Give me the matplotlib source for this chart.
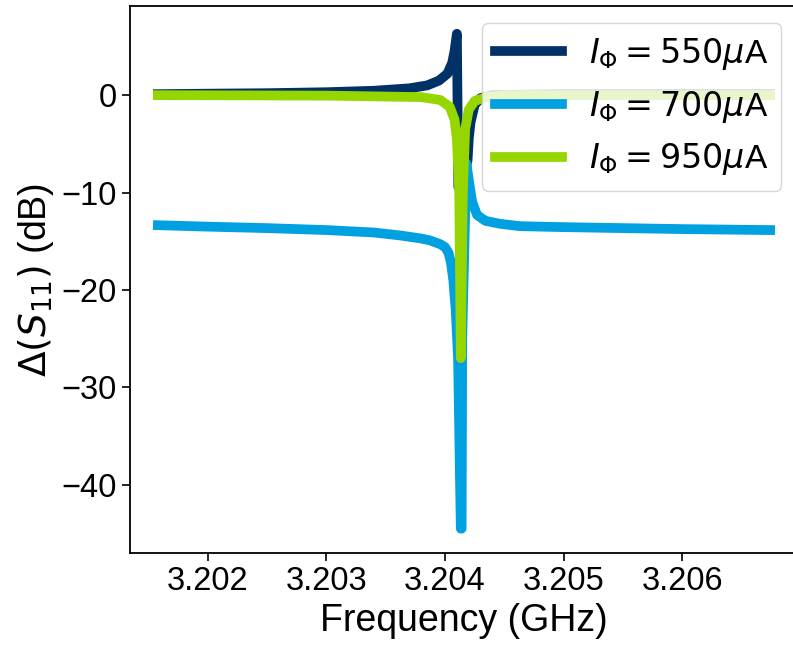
import matplotlib
matplotlib.use('Agg')
import matplotlib.pyplot as plt

# readings (frequency in GHz, delta S11 in dB)
freq_550 = [3.20158, 3.20200, 3.20250, 3.20300, 3.20340, 3.20370, 3.20385, 3.20395,
            3.20402, 3.20406, 3.20408, 3.20410, 3.204112, 3.20415, 3.20419, 3.20420,
            3.204215, 3.20425, 3.20430, 3.20440, 3.20500, 3.20600, 3.20674]
s11_550 = [0.1, 0.15, 0.2, 0.3, 0.45, 0.7, 1.0, 1.5,
           2.2, 3.3, 4.5, 6.3, -9.4, -8.5, -6.7, -4.5,
           -2.8, -1.0, -0.3, 0.0, 0.1, 0.1, 0.1]

freq_700 = [3.20158, 3.20200, 3.20250, 3.20300, 3.20340, 3.20362, 3.20379, 3.20387,
            3.20396, 3.20400, 3.20403, 3.20405, 3.20407, 3.20409, 3.20411, 3.204133,
            3.204140, 3.204145, 3.20418, 3.20421, 3.20423, 3.20427, 3.20434, 3.20446,
            3.20463, 3.20500, 3.20550, 3.20600, 3.20674]
s11_700 = [-13.35, -13.5, -13.65, -13.85, -14.1, -14.4, -14.7, -14.9,
           -15.3, -15.6, -16.2, -17.2, -19.0, -22.0, -27.0, -44.5,
           -44.5, -25.0, -7.0, -9.5, -11.0, -12.3, -12.9, -13.2,
           -13.45, -13.55, -13.65, -13.75, -13.85]

freq_950 = [3.20158, 3.20300, 3.20380, 3.20396, 3.20404, 3.20408, 3.20410, 3.20412,
            3.204133, 3.20415, 3.20417, 3.20420, 3.20425, 3.20435, 3.20450, 3.20674]
s11_950 = [0.0, -0.05, -0.2, -0.5, -1.2, -2.5, -4.5, -10.0,
           -27.0, -10.0, -3.5, -1.5, -0.6, -0.2, 0.0, 0.0]

labels = [r'$I_\Phi = 550\mu$A', r'$I_\Phi = 700\mu$A', r'$I_\Phi = 950\mu$A']
colors = ['#003167', '#00a0e1', '#95d500']

plt.rcParams['font.family'] = ['Liberation Sans', 'DejaVu Sans']
plt.rcParams['mathtext.fontset'] = 'dejavusans'

fig = plt.figure(figsize=(7.93, 6.45), dpi=100)
# axes runs slightly past the right edge of the picture, as in the reference crop
ax = fig.add_axes([130 / 793, 92 / 645, 668 / 793, 547 / 645])

for f, s, lab, c in zip([freq_550, freq_700, freq_950],
                        [s11_550, s11_700, s11_950], labels, colors):
    ax.plot(f, s, color=c, linewidth=7, label=lab)

ax.set_xlim(3.201345, 3.206975)
ax.set_ylim(-47.0, 9.15)
ax.set_xticks([3.202, 3.203, 3.204, 3.205, 3.206])
ax.set_yticks([0, -10, -20, -30, -40])
ax.tick_params(labelsize=23.5, length=6, width=1.2)
for sp in ax.spines.values():
    sp.set_linewidth(1.3)
ax.spines['right'].set_visible(False)

ax.set_xlabel('Frequency (GHz)', fontsize=27)
ax.set_ylabel(r'$\Delta(S_{11})$ (dB)', fontsize=27)

ax.legend(loc='upper right', fontsize=24, handlelength=2.0)

fig.savefig('out.png', dpi=100)
